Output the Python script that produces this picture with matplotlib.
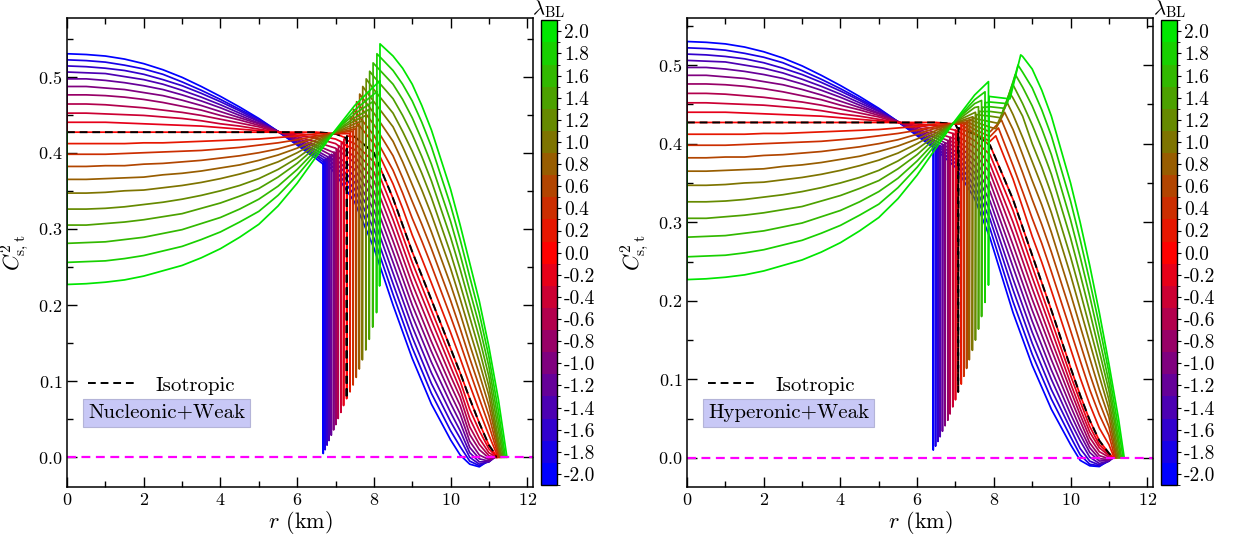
import numpy as np
import matplotlib
matplotlib.use('Agg')
import matplotlib.pyplot as plt
from matplotlib.colors import LinearSegmentedColormap, ListedColormap, BoundaryNorm
from matplotlib.cm import ScalarMappable
from matplotlib.lines import Line2D
from matplotlib.ticker import MultipleLocator

plt.rcParams['font.family'] = 'serif'
plt.rcParams['font.serif'] = ['cmr10']
plt.rcParams['mathtext.fontset'] = 'cm'
plt.rcParams['axes.unicode_minus'] = False
plt.rcParams['axes.formatter.use_mathtext'] = True

# anisotropy parameter of every curve
LAM = [-2.0, -1.8, -1.6, -1.4, -1.2, -1.0, -0.8, -0.6, -0.4, -0.2, 0.0,
       0.2, 0.4, 0.6, 0.8, 1.0, 1.2, 1.4, 1.6, 1.8, 2.0]

# value at the very centre before the first step
C_START = 0.427

# core profile (same in both panels), radii in km
N = None
R_IN = [0, 0.5, 1, 1.5, 2, 2.5, 3, 3.5, 4, 4.5, 5, 5.5, 6, 6.5, 7, 7.5, 8]
INNER = [
    [0.530, 0.529, 0.527, 0.523, 0.517, 0.509, 0.499, 0.487, 0.474, 0.460, 0.445, 0.428, 0.410, 0.392, N, N, N],
    [0.522, 0.521, 0.519, 0.515, 0.510, 0.503, 0.493, 0.482, 0.470, 0.457, 0.444, 0.428, 0.411, 0.395, N, N, N],
    [0.514, 0.513, 0.511, 0.508, 0.503, 0.496, 0.488, 0.478, 0.467, 0.455, 0.442, 0.428, 0.413, 0.397, N, N, N],
    [0.506, 0.505, 0.504, 0.500, 0.496, 0.490, 0.482, 0.473, 0.463, 0.452, 0.441, 0.428, 0.414, 0.400, N, N, N],
    [0.497, 0.497, 0.495, 0.492, 0.488, 0.483, 0.476, 0.468, 0.459, 0.449, 0.439, 0.428, 0.416, 0.403, N, N, N],
    [0.487, 0.487, 0.485, 0.483, 0.479, 0.475, 0.469, 0.462, 0.454, 0.446, 0.438, 0.428, 0.417, 0.407, N, N, N],
    [0.476, 0.476, 0.475, 0.473, 0.470, 0.466, 0.461, 0.456, 0.449, 0.443, 0.436, 0.428, 0.419, 0.410, N, N, N],
    [0.464, 0.464, 0.463, 0.461, 0.459, 0.456, 0.453, 0.449, 0.444, 0.439, 0.434, 0.427, 0.421, 0.414, 0.406, N, N],
    [0.452, 0.452, 0.451, 0.450, 0.449, 0.447, 0.445, 0.442, 0.438, 0.435, 0.431, 0.427, 0.423, 0.419, 0.412, N, N],
    [0.440, 0.440, 0.440, 0.439, 0.438, 0.437, 0.436, 0.435, 0.433, 0.431, 0.429, 0.427, 0.425, 0.423, 0.418, N, N],
    [0.427, 0.427, 0.427, 0.427, 0.427, 0.427, 0.427, 0.427, 0.427, 0.427, 0.427, 0.427, 0.427, 0.427, 0.425, N, N],
    [0.412, 0.412, 0.412, 0.412, 0.413, 0.413, 0.414, 0.415, 0.416, 0.417, 0.418, 0.420, 0.422, 0.425, 0.425, N, N],
    [0.398, 0.398, 0.398, 0.399, 0.400, 0.401, 0.402, 0.403, 0.405, 0.407, 0.410, 0.413, 0.417, 0.422, 0.426, N, N],
    [0.382, 0.382, 0.383, 0.383, 0.385, 0.386, 0.388, 0.390, 0.393, 0.396, 0.400, 0.405, 0.412, 0.420, 0.426, 0.431, N],
    [0.365, 0.365, 0.366, 0.367, 0.368, 0.371, 0.373, 0.376, 0.380, 0.384, 0.390, 0.397, 0.406, 0.417, 0.427, 0.434, N],
    [0.347, 0.347, 0.348, 0.350, 0.351, 0.354, 0.357, 0.361, 0.366, 0.372, 0.379, 0.388, 0.400, 0.414, 0.427, 0.438, N],
    [0.326, 0.326, 0.327, 0.329, 0.332, 0.335, 0.339, 0.344, 0.350, 0.357, 0.366, 0.378, 0.393, 0.411, 0.428, 0.442, N],
    [0.305, 0.305, 0.307, 0.309, 0.312, 0.316, 0.320, 0.327, 0.334, 0.343, 0.353, 0.368, 0.386, 0.408, 0.428, 0.446, N],
    [0.281, 0.282, 0.283, 0.286, 0.289, 0.294, 0.299, 0.307, 0.315, 0.326, 0.339, 0.356, 0.378, 0.404, 0.429, 0.451, N],
    [0.256, 0.257, 0.258, 0.261, 0.265, 0.271, 0.277, 0.286, 0.296, 0.309, 0.323, 0.344, 0.370, 0.400, 0.429, 0.456, 0.477],
    [0.227, 0.228, 0.230, 0.233, 0.238, 0.245, 0.252, 0.262, 0.274, 0.289, 0.306, 0.330, 0.360, 0.395, 0.430, 0.462, 0.487],
]

# ---- Nucleonic+Weak ----
rt_nuc = [6.68, 6.73, 6.78, 6.83, 6.89, 6.95, 7.01, 7.07, 7.14, 7.21, 7.29,
          7.38, 7.46, 7.54, 7.62, 7.70, 7.79, 7.88, 7.97, 8.07, 8.15]
ctop_nuc = [0.385, 0.386, 0.388, 0.390, 0.392, 0.395, 0.399, 0.403, 0.407, 0.413, 0.419,
            0.425, 0.428, 0.432, 0.436, 0.442, 0.449, 0.457, 0.467, 0.480, 0.494]
cbot_nuc = [0.005, 0.010, 0.016, 0.022, 0.029, 0.036, 0.043, 0.051, 0.059, 0.068, 0.077,
            0.086, 0.095, 0.105, 0.116, 0.128, 0.141, 0.155, 0.171, 0.190, 0.225]
cout_nuc = [0.391, 0.392, 0.394, 0.396, 0.398, 0.401, 0.405, 0.409, 0.413, 0.418, 0.422,
            0.447, 0.457, 0.467, 0.477, 0.487, 0.497, 0.507, 0.518, 0.530, 0.543]
rsurf_nuc = [11.12, 11.13, 11.14, 11.15, 11.16, 11.17, 11.18, 11.19, 11.20, 11.21, 11.22,
             11.24, 11.26, 11.28, 11.30, 11.32, 11.34, 11.37, 11.40, 11.43, 11.47]
R_OUT_NUC = [7.0, 7.5, 8.0, 8.5, 8.75, 9.0, 9.25, 9.5, 10.0, 10.25, 10.5, 10.75, 11.0, 11.25]
OUTER_NUC = [
    [0.372, 0.335, 0.275, 0.200, N, 0.130, N, 0.070, 0.023, 0.003, -0.009, -0.0125, -0.004, N],
    [0.377, 0.344, 0.288, 0.214, N, 0.144, N, 0.084, 0.035, 0.014, -0.005, -0.011, -0.005, N],
    [0.382, 0.352, 0.300, 0.228, N, 0.158, N, 0.097, 0.047, 0.025, 0.000, -0.009, -0.006, N],
    [0.387, 0.361, 0.313, 0.242, N, 0.172, N, 0.111, 0.059, 0.035, 0.006, -0.006, -0.006, N],
    [0.392, 0.369, 0.325, 0.256, N, 0.186, N, 0.125, 0.071, 0.046, 0.013, -0.002, -0.005, N],
    [0.397, 0.378, 0.338, 0.270, N, 0.200, N, 0.139, 0.083, 0.057, 0.021, 0.003, -0.003, N],
    [N, 0.387, 0.350, 0.284, N, 0.214, N, 0.152, 0.095, 0.068, 0.030, 0.010, -0.001, N],
    [N, 0.395, 0.363, 0.298, N, 0.228, N, 0.166, 0.107, 0.079, 0.040, 0.017, 0.002, N],
    [N, 0.404, 0.375, 0.312, N, 0.242, N, 0.180, 0.119, 0.089, 0.051, 0.025, 0.006, N],
    [N, 0.412, 0.388, 0.326, N, 0.256, N, 0.193, 0.131, 0.100, 0.063, 0.035, 0.011, N],
    [N, 0.421, 0.400, 0.340, N, 0.270, N, 0.207, 0.143, 0.111, 0.077, 0.045, 0.016, N],
    [N, 0.443, 0.412, 0.359, 0.327, 0.292, 0.261, 0.229, 0.164, 0.130, 0.095, 0.061, 0.029, N],
    [N, 0.455, 0.423, 0.377, 0.347, 0.314, 0.284, 0.252, 0.185, 0.150, 0.113, 0.077, 0.042, N],
    [N, N, 0.437, 0.396, 0.367, 0.336, 0.306, 0.274, 0.206, 0.169, 0.130, 0.093, 0.055, N],
    [N, N, 0.452, 0.415, 0.388, 0.358, 0.328, 0.296, 0.227, 0.189, 0.148, 0.109, 0.068, N],
    [N, N, 0.467, 0.434, 0.408, 0.380, 0.351, 0.319, 0.248, 0.208, 0.166, 0.125, 0.081, 0.015],
    [N, N, 0.483, 0.452, 0.428, 0.402, 0.373, 0.341, 0.268, 0.227, 0.184, 0.141, 0.093, 0.023],
    [N, N, 0.500, 0.471, 0.449, 0.424, 0.395, 0.363, 0.289, 0.247, 0.202, 0.157, 0.106, 0.035],
    [N, N, N, 0.490, 0.470, 0.446, 0.417, 0.385, 0.310, 0.266, 0.219, 0.173, 0.119, 0.047],
    [N, N, N, 0.508, 0.490, 0.468, 0.440, 0.408, 0.331, 0.286, 0.237, 0.189, 0.132, 0.060],
    [N, N, N, 0.527, 0.511, 0.490, 0.462, 0.430, 0.352, 0.305, 0.255, 0.205, 0.145, 0.075],
]

# ---- Hyperonic+Weak ----
rt_hyp = [6.42, 6.48, 6.54, 6.60, 6.66, 6.73, 6.80, 6.86, 6.93, 7.00, 7.07,
          7.15, 7.22, 7.29, 7.36, 7.44, 7.52, 7.60, 7.68, 7.77, 7.86]
ctop_hyp = [0.395, 0.395, 0.396, 0.397, 0.399, 0.401, 0.404, 0.408, 0.413, 0.417, 0.417,
            0.425, 0.426, 0.427, 0.430, 0.434, 0.440, 0.447, 0.455, 0.466, 0.479]
cbot_hyp = [0.010, 0.015, 0.021, 0.027, 0.034, 0.041, 0.048, 0.056, 0.065, 0.074, 0.084,
            0.094, 0.104, 0.114, 0.125, 0.137, 0.150, 0.164, 0.180, 0.198, 0.220]
cout_hyp = [0.395, 0.395, 0.396, 0.397, 0.399, 0.401, 0.404, 0.408, 0.413, 0.417, 0.420,
            0.424, 0.426, 0.428, 0.431, 0.434, 0.437, 0.441, 0.446, 0.452, 0.460]
rsurf_hyp = [11.08, 11.09, 11.10, 11.10, 11.11, 11.11, 11.12, 11.12, 11.12, 11.12, 11.12,
             11.14, 11.16, 11.19, 11.21, 11.24, 11.27, 11.30, 11.33, 11.37, 11.40]
# hyperon kink: local minimum and peak of the outer branch
rmin_hyp = [N] * 14 + [8.05, 8.10, 8.17, 8.22, 8.28, 8.35, 8.42]
cmin_hyp = [N] * 14 + [0.419, 0.426, 0.433, 0.439, 0.445, 0.451, 0.457]
rpk_hyp = [N] * 11 + [8.05, 8.12, 8.20, 8.28, 8.35, 8.42, 8.49, 8.56, 8.63, 8.70]
cpk_hyp = [N] * 11 + [0.410, 0.420, 0.430, 0.440, 0.452, 0.464, 0.476, 0.488, 0.500, 0.513]
R_OUT_HYP = [7.0, 7.5, 7.9, 8.5, 8.75, 9.0, 9.25, 9.5, 10.0, 10.25, 10.5, 10.75, 11.0, 11.25]
OUTER_HYP = [
    [0.370, 0.330, 0.280, 0.185, N, 0.118, N, 0.062, 0.017, -0.003, -0.010, -0.011, -0.003, N],
    [0.375, 0.338, 0.292, 0.199, N, 0.132, N, 0.075, 0.027, 0.004, -0.008, -0.010, -0.004, N],
    [0.380, 0.346, 0.304, 0.214, N, 0.146, N, 0.087, 0.037, 0.012, -0.004, -0.009, -0.004, N],
    [0.385, 0.355, 0.315, 0.228, N, 0.160, N, 0.100, 0.046, 0.022, 0.001, -0.007, -0.004, N],
    [0.390, 0.363, 0.327, 0.243, N, 0.174, N, 0.112, 0.056, 0.030, 0.007, -0.004, -0.003, N],
    [0.396, 0.371, 0.339, 0.257, N, 0.188, N, 0.125, 0.066, 0.038, 0.013, -0.001, -0.002, N],
    [0.401, 0.379, 0.351, 0.271, N, 0.202, N, 0.138, 0.076, 0.047, 0.019, 0.003, -0.001, N],
    [0.406, 0.387, 0.363, 0.286, N, 0.216, N, 0.150, 0.086, 0.055, 0.026, 0.008, 0.001, N],
    [0.411, 0.396, 0.374, 0.300, N, 0.230, N, 0.163, 0.095, 0.063, 0.033, 0.013, 0.003, N],
    [N, 0.404, 0.386, 0.315, N, 0.244, N, 0.175, 0.105, 0.072, 0.040, 0.017, 0.005, N],
    [N, 0.412, 0.398, 0.329, N, 0.258, N, 0.188, 0.115, 0.080, 0.048, 0.022, 0.006, N],
    [N, 0.413, 0.403, 0.355, 0.319, 0.282, 0.249, 0.213, 0.139, 0.102, 0.068, 0.038, 0.017, N],
    [N, 0.418, 0.409, 0.372, 0.339, 0.305, 0.273, 0.237, 0.162, 0.124, 0.087, 0.055, 0.029, N],
    [N, 0.423, 0.415, 0.395, 0.363, 0.329, 0.297, 0.262, 0.186, 0.146, 0.107, 0.071, 0.040, N],
    [N, 0.428, 0.421, 0.418, 0.386, 0.353, 0.322, 0.287, 0.209, 0.168, 0.127, 0.087, 0.052, N],
    [N, 0.432, 0.428, 0.437, 0.408, 0.377, 0.346, 0.312, 0.233, 0.190, 0.147, 0.104, 0.063, N],
    [N, N, 0.435, 0.458, 0.435, 0.400, 0.370, 0.336, 0.256, 0.212, 0.166, 0.120, 0.074, N],
    [N, N, 0.441, 0.475, 0.451, 0.424, 0.394, 0.361, 0.280, 0.234, 0.186, 0.136, 0.086, 0.016],
    [N, N, 0.447, N, 0.472, 0.448, 0.419, 0.386, 0.303, 0.256, 0.206, 0.152, 0.097, 0.025],
    [N, N, 0.453, N, 0.491, 0.471, 0.443, 0.410, 0.327, 0.278, 0.225, 0.169, 0.109, 0.037],
    [N, N, 0.460, N, 0.511, 0.495, 0.468, 0.435, 0.350, 0.300, 0.245, 0.185, 0.120, 0.050],
]


def build_curve(i, rt, ctop, cbot, cout, r_out, outer, rsurf, kinks=()):
    r = [0.0, 0.0]
    c = [C_START, INNER[i][0]]
    for rg, v in zip(R_IN[1:], INNER[i][1:]):
        if v is not None and rg < rt[i] - 0.03:
            r.append(rg)
            c.append(v)
    # phase transition spike
    r += [rt[i], rt[i], rt[i] + 0.01]
    c += [ctop[i], cbot[i], cout[i]]
    tail = [(rg, v) for rg, v in zip(r_out, outer[i])
            if v is not None and rg > rt[i] + 0.03]
    for rk, ck in kinks:
        if rk[i] is not None:
            tail.append((rk[i], ck[i]))
    tail.append((rsurf[i], 0.0))
    tail.sort()
    r += [p[0] for p in tail]
    c += [p[1] for p in tail]
    return r, c


cmap_base = LinearSegmentedColormap.from_list('bl', ['#0000ff', '#ff0000', '#00e600'])
colors = [cmap_base(k / (len(LAM) - 1)) for k in range(len(LAM))]
cmap = ListedColormap(colors)
bounds = np.arange(-2.1, 2.11, 0.2)
norm = BoundaryNorm(bounds, cmap.N)

fig = plt.figure(figsize=(12.37, 5.41), dpi=100)
ax_l = fig.add_axes([0.0542, 0.0998, 0.3767, 0.867])
ax_r = fig.add_axes([0.5554, 0.0998, 0.3767, 0.867])
cax_l = fig.add_axes([0.4373, 0.1035, 0.0129, 0.859])
cax_r = fig.add_axes([0.9386, 0.1035, 0.0129, 0.859])

panels = [
    (ax_l, cax_l, 'Nucleonic+Weak', (-0.039, 0.577),
     dict(rt=rt_nuc, ctop=ctop_nuc, cbot=cbot_nuc, cout=cout_nuc,
          r_out=R_OUT_NUC, outer=OUTER_NUC, rsurf=rsurf_nuc)),
    (ax_r, cax_r, 'Hyperonic+Weak', (-0.037, 0.560),
     dict(rt=rt_hyp, ctop=ctop_hyp, cbot=cbot_hyp, cout=cout_hyp,
          r_out=R_OUT_HYP, outer=OUTER_HYP, rsurf=rsurf_hyp,
          kinks=((rmin_hyp, cmin_hyp), (rpk_hyp, cpk_hyp)))),
]

DASH = (0, (4, 2.5))

for ax, cax, label, ylim, d in panels:
    for i, lam in enumerate(LAM):
        r, c = build_curve(i, **d)
        ax.plot(r, c, color=colors[i], lw=1.25)
        if lam == 0.0:
            # isotropic case, drawn right above its own coloured curve
            ax.plot(r, c, color='black', ls=DASH, lw=1.4)
    ax.axhline(0.0, color='#ff00ff', ls=DASH, lw=1.6)

    ax.set_xlim(0, 12.15)
    ax.set_ylim(*ylim)
    ax.xaxis.set_major_locator(MultipleLocator(2))
    ax.xaxis.set_minor_locator(MultipleLocator(1))
    ax.yaxis.set_major_locator(MultipleLocator(0.1))
    ax.yaxis.set_minor_locator(MultipleLocator(0.05))
    ax.tick_params(which='both', direction='in', top=True, right=True, labelsize=13)
    ax.tick_params(which='major', length=7, width=1)
    ax.tick_params(which='minor', length=4, width=1)
    ax.set_xlabel(r'$r$ (km)', fontsize=16, labelpad=1)
    ax.set_ylabel(r'$C^2_{\rm s,t}$', fontsize=16, labelpad=5)
    for sp in ax.spines.values():
        sp.set_linewidth(1.1)

    h = Line2D([], [], color='black', ls=DASH, lw=1.4)
    ax.legend([h], ['Isotropic'], loc='center left', bbox_to_anchor=(0.028, 0.217),
              frameon=False, fontsize=15, handlelength=2.2, handletextpad=1.0,
              borderaxespad=0)
    ax.text(0.045, 0.158, label, transform=ax.transAxes, fontsize=15,
            ha='left', va='center',
            bbox=dict(boxstyle='square,pad=0.25', fc='#c8c8f6', ec='#b4b4d8', lw=0.8))

    sm = ScalarMappable(norm=norm, cmap=cmap)
    cb = fig.colorbar(sm, cax=cax, boundaries=bounds, ticks=LAM)
    cb.ax.set_yticklabels(['%.1f' % v for v in LAM])
    cb.ax.tick_params(labelsize=14, length=3, direction='out', pad=2)
    cb.outline.set_linewidth(1.0)
    cb.ax.set_title(r'$\lambda_{\rm BL}$', fontsize=15, pad=2)

fig.savefig('out.png', dpi=100)
